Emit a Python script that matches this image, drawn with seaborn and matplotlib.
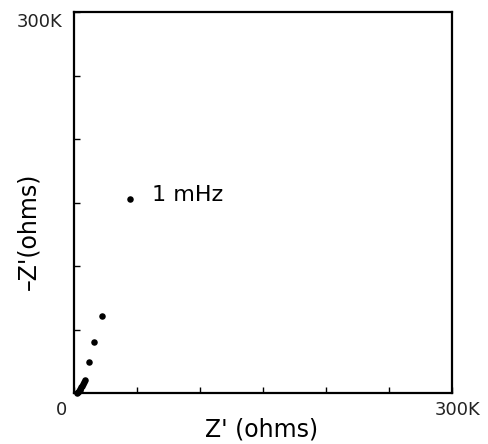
# Nyquist plot: -Z'' vs Z' (ohms), low-frequency end labelled 1 mHz
import numpy as np
import pandas as pd
import matplotlib
matplotlib.use("Agg")
import matplotlib.pyplot as plt
import seaborn as sns

# ── data (ohms) ──────────────────────────────────────────────────────────────
z_real = [2400, 3200, 4000, 4400, 5000, 5600, 6400, 7100, 8000, 8700,
          12100, 16100, 22000, 44400]
z_imag = [0, 800, 1600, 2400, 3500, 4700, 5900, 7100, 8600, 10200,
          24200, 39900, 60800, 152700]
label_text = "1 mHz"
label_idx = 13

AX_MAX = 300000
TICK_STEP = 50000

sns.set_theme(style="white")
plt.rcParams["font.family"] = ["DejaVu Sans"]

df = pd.DataFrame({"zr": z_real, "zi": z_imag})

fig = plt.figure(figsize=(4.88, 4.44), dpi=100)
ax = fig.add_axes([74 / 488, 1 - 393 / 444, 378 / 488, 381 / 444])

sns.scatterplot(data=df, x="zr", y="zi", ax=ax, color="black", s=22,
                edgecolor="black", linewidth=0, legend=False, clip_on=False)

ax.set_xlim(0, AX_MAX)
ax.set_ylim(0, AX_MAX)
ticks = np.arange(0, AX_MAX + 1, TICK_STEP)
ax.set_xticks(ticks)
ax.set_yticks(ticks)
ax.set_xticklabels([])
ax.set_yticklabels([])
ax.tick_params(direction="in", length=4, width=1, color="black",
               bottom=True, left=True, top=False, right=False)

for sp in ax.spines.values():
    sp.set_color("black")
    sp.set_linewidth(1.6)

ax.set_xlabel("")
ax.set_ylabel("")

# end labels of the axes
ax.text(-0.032, -0.045, "0", transform=ax.transAxes, ha="center", va="center",
        fontsize=13, color="#222222")
ax.text(1.015, -0.045, "300K", transform=ax.transAxes, ha="center", va="center",
        fontsize=13, color="#222222")
ax.text(-0.03, 0.975, "300K", transform=ax.transAxes, ha="right", va="center",
        fontsize=13, color="#222222")

# axis titles
ax.text(0.497, -0.097, "Z' (ohms)", transform=ax.transAxes, ha="center",
        va="center", fontsize=17, color="black")
ax.text(-0.122, 0.425, "\u2013Z'(ohms)", transform=ax.transAxes, ha="center",
        va="center", rotation=90, fontsize=17, color="black")

# frequency annotation
ax.annotate(label_text, (z_real[label_idx], z_imag[label_idx]),
            xytext=(16, 3), textcoords="offset points", ha="left",
            va="center", fontsize=16, color="black")

fig.savefig("out.png", dpi=100, facecolor="white")
